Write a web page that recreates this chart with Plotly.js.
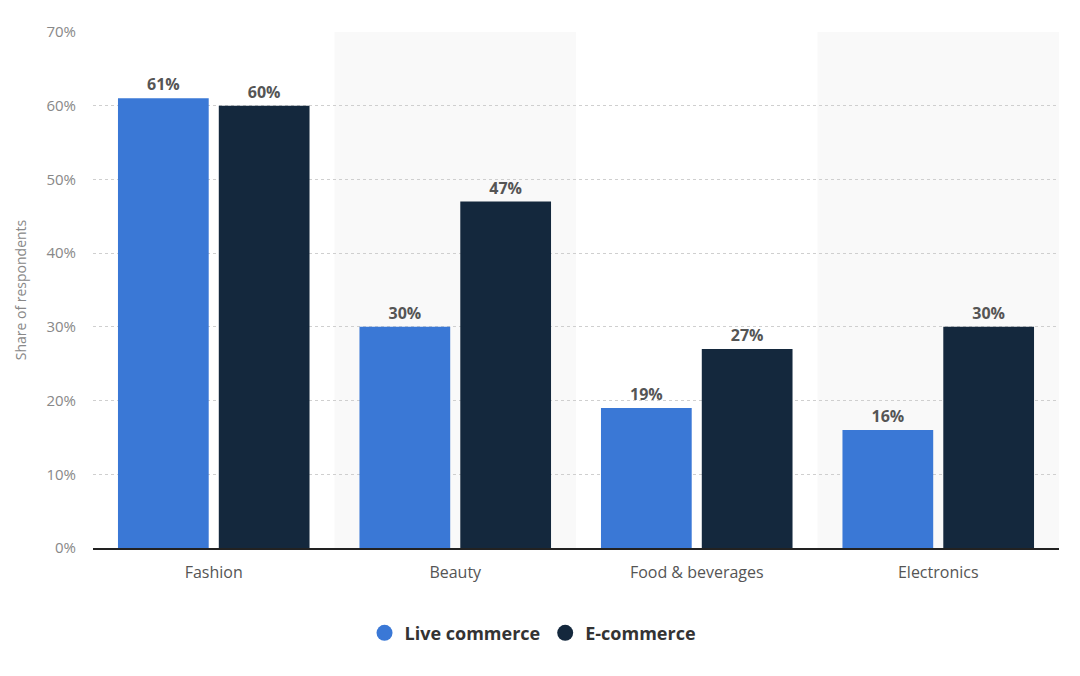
<!DOCTYPE html>
<html><head><meta charset="utf-8">
<script src="https://cdn.plot.ly/plotly-3.0.1.min.js"></script>
<style>html,body{margin:0;padding:0;background:#fff}#chart{width:1080px;height:676px}</style>
</head><body><div id="chart"></div>
<script>
const categories = ["Fashion", "Beauty", "Food & beverages", "Electronics"];
const liveCommerce = [61, 30, 19, 16];
const eCommerce = [60, 47, 27, 30];
const seriesNames = ["Live commerce", "E-commerce"];
const colors = ["#3a78d6", "#14283d"];
const yTicks = [0, 10, 20, 30, 40, 50, 60, 70];
const yTickLabels = yTicks.map(v => v + "%");

const font = "'Open Sans', 'DejaVu Sans', sans-serif";
function barTrace(name, vals, color) {
  return {
    type: "bar", name: name, x: categories, y: vals,
    marker: {color: color},
    text: vals.map(v => v + "%"), textposition: "outside",
    textfont: {family: font, size: 16, color: "#555", weight: 700},
    cliponaxis: false, showlegend: false, hoverinfo: "skip"
  };
}
function legendTrace(name, color) {
  return {type: "scatter", mode: "markers", name: name, x: [null], y: [null],
    marker: {color: color, size: 20, symbol: "circle"}, showlegend: true, hoverinfo: "skip"};
}
const data = [
  barTrace(seriesNames[0], liveCommerce, colors[0]),
  barTrace(seriesNames[1], eCommerce, colors[1]),
  legendTrace(seriesNames[0], colors[0]),
  legendTrace(seriesNames[1], colors[1])
];
const shapes = [1, 3].map(i => ({
  type: "rect", xref: "x", yref: "paper", x0: i - 0.5, x1: i + 0.5, y0: 0, y1: 1,
  fillcolor: "#f9f9f9", line: {width: 0}, layer: "below"
}));
const layout = {
  width: 1080, height: 676,
  margin: {l: 93, r: 21, t: 32, b: 128},
  paper_bgcolor: "#fff", plot_bgcolor: "#fff",
  barmode: "group", bargap: 0.165, bargroupgap: 0.1,
  font: {family: font, color: "#666"},
  xaxis: {
    type: "category", tickfont: {size: 16, color: "#555", family: font},
    showgrid: false, showline: true, linecolor: "#222", linewidth: 1.5,
    ticks: "", ticklen: 0, ticklabelstandoff: 9, range: [-0.5, 3.5], fixedrange: true
  },
  yaxis: {
    range: [0, 70], tickvals: yTicks, ticktext: yTickLabels,
    tickfont: {size: 15, color: "#888", family: font},
    showgrid: true, gridcolor: "#cfcfcf", griddash: "dot", gridwidth: 1,
    zeroline: false, showline: false, ticks: "", ticklabelstandoff: 16,
    title: {text: "Share of respondents", font: {size: 14, color: "#888", family: font}, standoff: 16}
  },
  shapes: shapes,
  showlegend: true,
  legend: {
    orientation: "h", x: 0.455, xanchor: "center", y: -0.165, yanchor: "middle",
    font: {size: 18, color: "#333", family: font, weight: 700},
    itemwidth: 30, tracegroupgap: 0
  }
};
Plotly.newPlot("chart", data, layout, {staticPlot: true});
</script></body></html>
